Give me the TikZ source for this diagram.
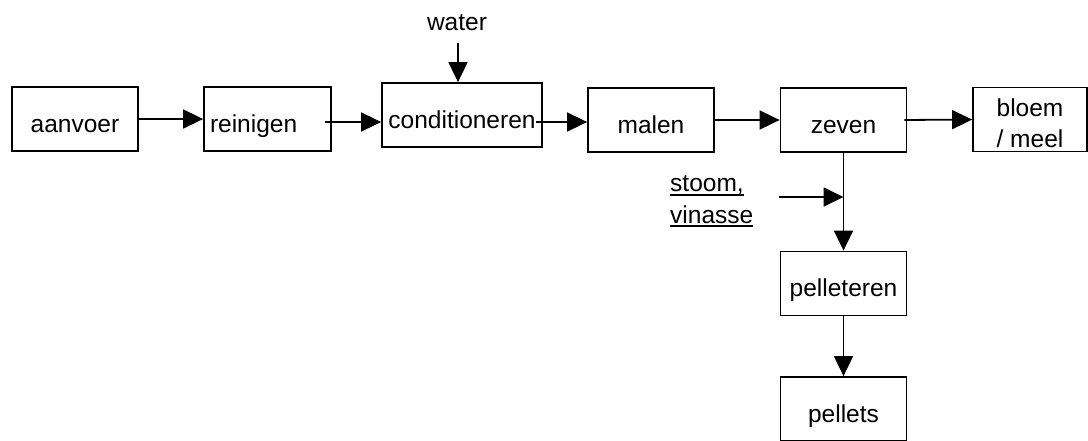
\documentclass[tikz,border=0pt]{standalone}
\usepackage{fontspec}
\setmainfont{Liberation Sans}
\usetikzlibrary{arrows.meta}
\newcommand\onderstreep[1]{\setbox0\hbox{#1}\rlap{\rule[-4.2pt]{\wd0}{2pt}}\box0}
\begin{document}
\begin{tikzpicture}[x=1pt,y=-1pt,
  every node/.style={font=\fontsize{24.5}{31.5}\selectfont, inner sep=0pt},
  stap/.style={draw, line width=1.8pt, minimum height=64pt, text height=27pt, text depth=1pt},
  flow/.style={line width=1.8pt, -{Triangle[length=20pt,width=19pt]}}]
\useasboundingbox (0,0) rectangle (1088,440);
% processtappen
\node[stap, minimum width=126pt] (aanvoer) at (75,119) {aanvoer};
\node[stap, text width=115pt, align=left, inner xsep=6pt] (reinigen) at (267.5,119) {reinigen};
\node[stap, minimum width=160pt] (cond) at (462,115) {conditioneren};
\node[stap, minimum width=126pt] (malen) at (651,120) {malen};
\node[stap, minimum width=126pt] (zeven) at (843.5,120) {zeven};
\node[stap, minimum width=114pt, align=center, text height=58.5pt, text depth=2.5pt] (bloem) at (1030,119.5) {bloem\\/ meel};
\node[stap, minimum width=126pt] (pelleteren) at (843.5,283.5) {pelleteren};
\node[stap, minimum width=126pt] (pellets) at (843.5,409) {pellets};
% toevoegingen
\node[anchor=base] (water) at (457,30) {water};
\node[anchor=base west, align=left] (stoom) at (670,223) {\onderstreep{stoom,}\\\onderstreep{vinasse}};
\coordinate (waterin) at (458,43);
\coordinate (stoomin) at (779,197);
\coordinate (menger) at (zeven.south |- stoomin);
% stromen
\draw[flow] (aanvoer) -- (reinigen);
\draw[flow] ([shift={(-7,3)}]reinigen.east) -- ([yshift=-3pt]reinigen.east -| cond.west);
\draw[flow] ([shift={(-7,7)}]cond.east) -- ([yshift=-7pt]cond.east -| malen.west);
\draw[flow] ([xshift=-2pt]malen.east) -- (zeven.west);
\draw[flow] ([xshift=-3pt]zeven.east) -- (bloem.west);
\draw[flow] (waterin) -- (waterin |- cond.north);
\draw[flow] (zeven) -- (pelleteren);
\draw[flow] (stoomin) -- (menger);
\draw[flow] (pelleteren) -- (pellets);
\end{tikzpicture}
\end{document}
